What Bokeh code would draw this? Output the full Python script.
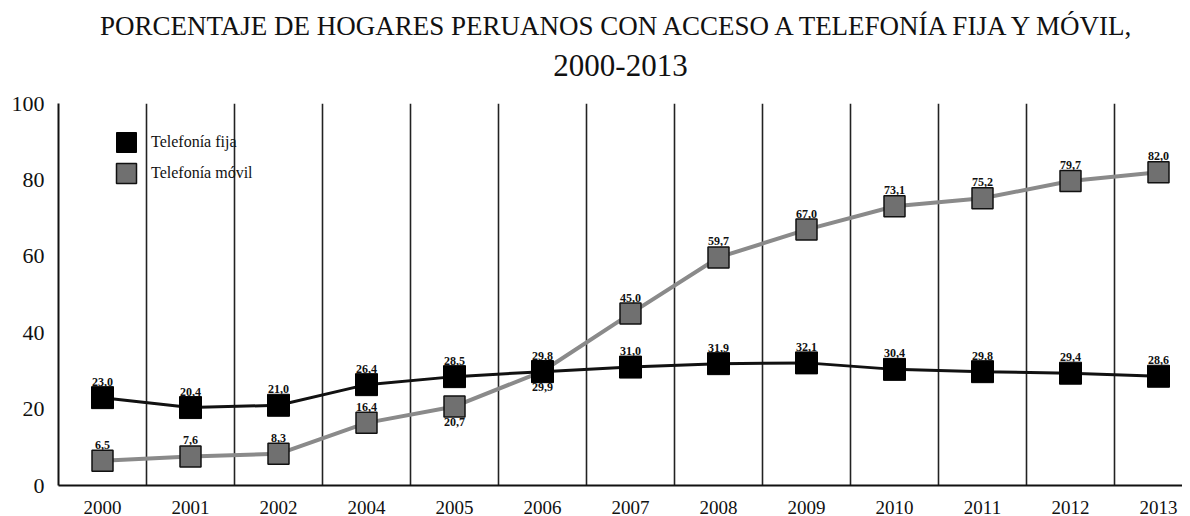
from bokeh.plotting import figure
from bokeh.models import (FixedTicker, Range1d, ColumnDataSource, Title, Legend, LegendItem)
from bokeh.core.properties import value
from bokeh.embed import file_html
from bokeh.resources import INLINE

# ---- data ----
years = ["2000", "2001", "2002", "2004", "2005", "2006", "2007",
         "2008", "2009", "2010", "2011", "2012", "2013"]
fija = [23.0, 20.4, 21.0, 26.4, 28.5, 29.8, 31.0, 31.9, 32.1, 30.4, 29.8, 29.4, 28.6]
movil = [6.5, 7.6, 8.3, 16.4, 20.7, 29.9, 45.0, 59.7, 67.0, 73.1, 75.2, 79.7, 82.0]
movil_label_below = [False, False, False, False, True, True, False,
                     False, False, False, False, False, False]
y_ticks = [0, 20, 40, 60, 80, 100]
title_line1 = "PORCENTAJE DE HOGARES PERUANOS CON ACCESO A TELEFONÍA FIJA Y MÓVIL,"
title_line2 = "2000-2013"

FONT = "Liberation Serif"
n = len(years)
xs = [i + 0.5 for i in range(n)]
fmt = lambda v: f"{v:.1f}".replace(".", ",")

W, H = 1182, 516
left_border, top_border = 58, 103
frame_h = 382
cat_w = 88.0
x_max = (W - left_border) / cat_w

p = figure(width=W, height=H, output_backend="svg", toolbar_location=None,
           x_range=Range1d(0, x_max), y_range=Range1d(0, 100),
           min_border_left=left_border, min_border_right=0,
           min_border_top=top_border, min_border_bottom=H - top_border - frame_h)
p.outline_line_color = None
p.background_fill_color = "white"
p.border_fill_color = "white"

# axes
p.yaxis.ticker = FixedTicker(ticks=y_ticks)
p.yaxis.axis_line_color = "#111111"
p.yaxis.axis_line_width = 2
p.yaxis.major_tick_line_color = None
p.yaxis.minor_tick_line_color = None
p.yaxis.major_label_text_font = FONT
p.yaxis.major_label_text_font_size = "22px"
p.yaxis.major_label_text_color = "#111111"
p.yaxis.major_label_standoff = 8

p.xaxis.ticker = FixedTicker(ticks=xs)
p.xaxis.major_label_overrides = {x: y for x, y in zip(xs, years)}
p.xaxis.axis_line_color = "#111111"
p.xaxis.axis_line_width = 2
p.xaxis.major_tick_line_color = None
p.xaxis.minor_tick_line_color = None
p.xaxis.major_label_text_font = FONT
p.xaxis.major_label_text_font_size = "19px"
p.xaxis.major_label_text_color = "#111111"
p.xaxis.major_label_standoff = 9

# grid: vertical separators between categories
p.ygrid.grid_line_color = None
p.xgrid.ticker = FixedTicker(ticks=list(range(1, n)))
p.xgrid.grid_line_color = "#222222"
p.xgrid.grid_line_width = 1.6

src = ColumnDataSource(dict(
    x=xs, fija=fija, movil=movil,
    fija_lbl=[fmt(v) for v in fija],
    movil_lbl_above=[fmt(v) if not b else "" for v, b in zip(movil, movil_label_below)],
    movil_lbl_below=[fmt(v) if b else "" for v, b in zip(movil, movil_label_below)],
))

# lines
p.line("x", "movil", source=src, line_color="#8a8a8a", line_width=4)
p.line("x", "fija", source=src, line_color="#111111", line_width=3)

# markers
r_m = p.scatter("x", "movil", source=src, marker="square", size=21,
                fill_color="#707070", line_color="#111111", line_width=1.5)
r_f = p.scatter("x", "fija", source=src, marker="square", size=22,
                fill_color="#000000", line_color="#000000")

# value labels
common = dict(text_font=value(FONT), text_font_size="12px", text_font_style="bold",
              text_align="center", text_color="#111111")
p.text("x", "fija", text="fija_lbl", source=src, text_baseline="bottom", y_offset=-12, **common)
p.text("x", "movil", text="movil_lbl_above", source=src, text_baseline="bottom", y_offset=-12, **common)
p.text("x", "movil", text="movil_lbl_below", source=src, text_baseline="top", y_offset=12, **common)

# legend: one legend box per item (marker legend glyph = 0.4 * glyph box)
leg_style = dict(glyph_width=50, glyph_height=50, padding=0, margin=0, label_standoff=0,
                 label_text_font=FONT, label_text_font_size="16px", label_text_color="#111111",
                 border_line_color=None, background_fill_alpha=0)
p.add_layout(Legend(items=[LegendItem(label="Telefonía fija", renderers=[r_f])],
                    location=(43, 318), **leg_style), "center")
p.add_layout(Legend(items=[LegendItem(label="Telefonía móvil", renderers=[r_m])],
                    location=(43, 287), **leg_style), "center")

# title (two lines) with a small spacer panel next to the frame
p.add_layout(Title(text=" ", text_font=FONT, text_font_size="12px", standoff=0), "above")
p.add_layout(Title(text=title_line2, align="center", text_font=FONT, text_font_size="31px",
                   text_font_style="normal", text_color="#111111", standoff=24), "above")
p.add_layout(Title(text=title_line1, align="center", text_font=FONT, text_font_size="27px",
                   text_font_style="normal", text_color="#111111", standoff=0), "above")

open("out.html", "w").write(file_html(p, INLINE))
